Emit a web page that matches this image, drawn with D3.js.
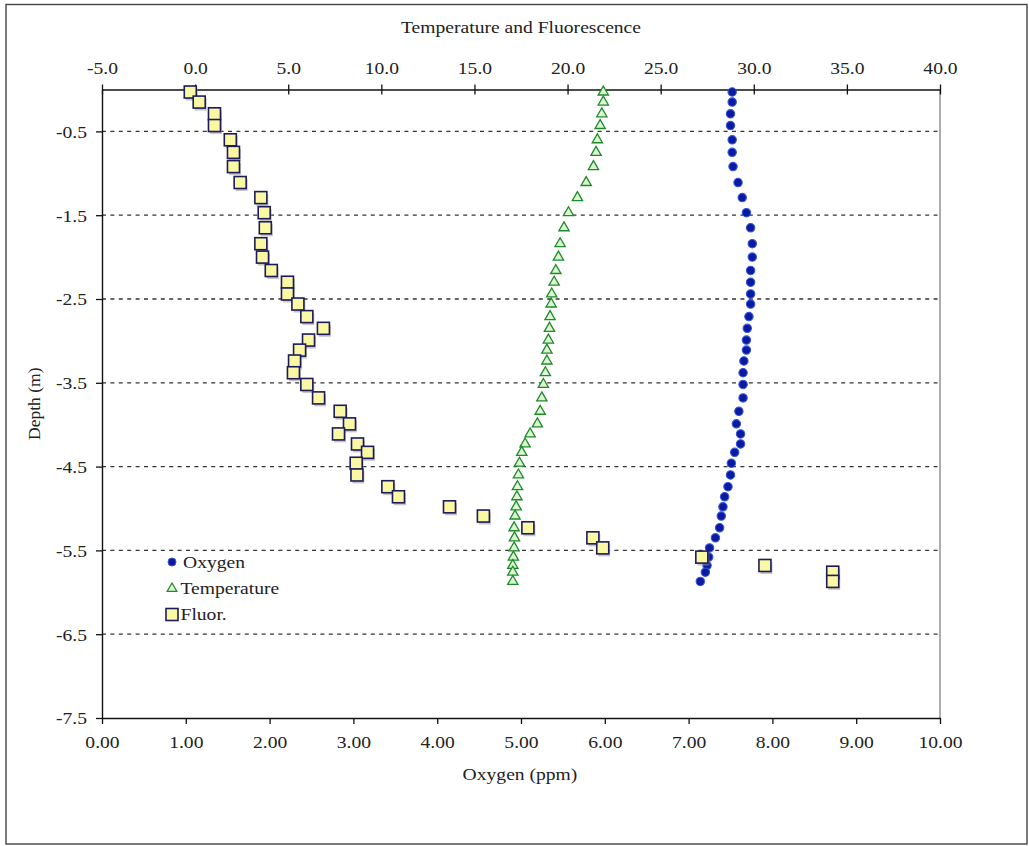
<!DOCTYPE html>
<html>
<head>
<meta charset="utf-8">
<script src="https://cdn.jsdelivr.net/npm/d3@7"></script>
<style>
  html, body { margin: 0; padding: 0; background: #fff; }
  svg { display: block; }
  text { font-family: "Liberation Serif", "Times New Roman", serif; fill: #222; }
  .sx { transform-box: fill-box; transform-origin: center; transform: scaleX(1.12); }
  .sxl { transform-box: fill-box; transform-origin: left center; transform: scaleX(1.12); }
  .sxr { transform-box: fill-box; transform-origin: right center; transform: scaleX(1.12); }
</style>
</head>
<body>
<script>
// ---- data ----
const depth = [-0.03, -0.15, -0.29, -0.43, -0.60, -0.75, -0.92, -1.11, -1.29, -1.47,
  -1.65, -1.84, -2.00, -2.16, -2.30, -2.44, -2.56, -2.71, -2.85, -2.99,
  -3.11, -3.24, -3.38, -3.52, -3.68, -3.84, -3.99, -4.11, -4.23, -4.33,
  -4.46, -4.60, -4.74, -4.86, -4.98, -5.09, -5.23, -5.35, -5.47, -5.58,
  -5.68, -5.76, -5.87];
const oxygen = [7.52, 7.52, 7.50, 7.50, 7.52, 7.52, 7.53, 7.59, 7.64, 7.69,
  7.74, 7.76, 7.76, 7.74, 7.74, 7.74, 7.74, 7.72, 7.70, 7.69,
  7.69, 7.66, 7.65, 7.65, 7.65, 7.60, 7.57, 7.62, 7.62, 7.55,
  7.51, 7.50, 7.47, 7.43, 7.41, 7.39, 7.37, 7.32, 7.25, 7.24,
  7.22, 7.20, 7.14];
const temperature = [21.92, 21.92, 21.84, 21.75, 21.60, 21.53, 21.39, 21.00, 20.53, 20.05,
  19.81, 19.60, 19.51, 19.37, 19.28, 19.15, 19.12, 19.06, 19.03, 18.97,
  18.89, 18.89, 18.81, 18.70, 18.62, 18.53, 18.38, 17.99, 17.72, 17.54,
  17.42, 17.36, 17.31, 17.28, 17.24, 17.18, 17.13, 17.15, 17.13, 17.09,
  17.06, 17.06, 17.06];
const fluor = [-0.26, 0.22, 1.04, 1.04, 1.89, 2.06, 2.06, 2.42, 3.53, 3.71,
  3.77, 3.53, 3.62, 4.09, 4.96, 4.96, 5.52, 6.00, 6.89, 6.09,
  5.61, 5.34, 5.28, 6.00, 6.63, 7.79, 8.29, 7.70, 8.72, 9.26,
  8.65, 8.69, 10.35, 10.92, 13.66, 15.48, 17.87, 21.36, 21.89, 27.21,
  30.60, 34.24, 34.24];

const topTicks = [-5, 0, 5, 10, 15, 20, 25, 30, 35, 40];
const topTickLabels = ["-5.0", "0.0", "5.0", "10.0", "15.0", "20.0", "25.0", "30.0", "35.0", "40.0"];
const bottomTicks = [0, 1, 2, 3, 4, 5, 6, 7, 8, 9, 10];
const bottomTickLabels = ["0.00", "1.00", "2.00", "3.00", "4.00", "5.00", "6.00", "7.00", "8.00", "9.00", "10.00"];
const depthTicks = [-0.5, -1.5, -2.5, -3.5, -4.5, -5.5, -6.5, -7.5];
const depthTickLabels = ["-0.5", "-1.5", "-2.5", "-3.5", "-4.5", "-5.5", "-6.5", "-7.5"];
const legendItems = ["Oxygen", "Temperature", "Fluor."];

// ---- layout ----
const W = 1029, H = 846;
const L = 102, R = 940, T = 89.5, B = 718;
const FS = 17.5;

const svg = d3.select("body").append("svg").attr("width", W).attr("height", H);

svg.append("rect").attr("x", 6).attr("y", 4.5).attr("width", 1021).attr("height", 839.5)
  .attr("fill", "#fff").attr("stroke", "#444").attr("stroke-width", 1.4);

const xO = d3.scaleLinear().domain([0, 10]).range([L, R]);
const xT = d3.scaleLinear().domain([-5, 40]).range([L, R]);
const y = d3.scaleLinear().domain([0, -7.5]).range([T, B]);

// gridlines
svg.append("g").selectAll("line").data(depthTicks.filter(d => d > -7.5)).join("line")
  .attr("x1", L).attr("x2", R)
  .attr("y1", d => y(d)).attr("y2", d => y(d))
  .attr("stroke", "#333").attr("stroke-width", 1.3).attr("stroke-dasharray", "4,4.4");

// right border
svg.append("line").attr("x1", R).attr("x2", R).attr("y1", T).attr("y2", B)
  .attr("stroke", "#777").attr("stroke-width", 1.2);

// top axis
const gTop = svg.append("g").attr("transform", `translate(0,${T})`)
  .call(d3.axisTop(xT).tickValues(topTicks).tickFormat((d, i) => topTickLabels[i]).tickSizeOuter(0).tickSizeInner(5));
gTop.select(".domain").attr("stroke", "#111").attr("stroke-width", 1.4);
gTop.selectAll(".tick line").attr("y1", 5).attr("y2", -5).attr("stroke", "#111").attr("stroke-width", 1.3);
gTop.selectAll(".tick text").attr("y", -16).attr("dy", 0).attr("font-size", FS)
  .attr("font-family", null).attr("class", "sx").attr("fill", "#222");

// bottom axis
const gBot = svg.append("g").attr("transform", `translate(0,${B})`)
  .call(d3.axisBottom(xO).tickValues(bottomTicks).tickFormat((d, i) => bottomTickLabels[i]).tickSizeOuter(0).tickSizeInner(6));
gBot.select(".domain").attr("stroke", "#111").attr("stroke-width", 1.4);
gBot.selectAll(".tick line").attr("stroke", "#111").attr("stroke-width", 1.3);
gBot.selectAll(".tick text").attr("y", 30).attr("dy", 0).attr("font-size", FS)
  .attr("font-family", null).attr("class", "sx").attr("fill", "#222");

// left axis
const gLeft = svg.append("g").attr("transform", `translate(${L},0)`)
  .call(d3.axisLeft(y).tickValues(depthTicks).tickFormat((d, i) => depthTickLabels[i]).tickSizeOuter(0).tickSizeInner(6));
gLeft.select(".domain").attr("stroke", "#111").attr("stroke-width", 1.4);
gLeft.selectAll(".tick line").attr("stroke", "#111").attr("stroke-width", 1.3);
gLeft.selectAll(".tick text").attr("x", -15).attr("dy", "0.34em").attr("font-size", FS)
  .attr("font-family", null).attr("class", "sxr").attr("fill", "#222");

// axis titles
svg.append("text").attr("x", (L + R) / 2).attr("y", 33.5).attr("text-anchor", "middle")
  .attr("font-size", FS).attr("class", "sx").text("Temperature and Fluorescence");
svg.append("text").attr("x", (L + R) / 2 - 1).attr("y", 780).attr("text-anchor", "middle")
  .attr("font-size", FS).attr("class", "sx").text("Oxygen (ppm)");
svg.append("text").attr("transform", `translate(39.5,${(T + B) / 2}) rotate(-90)`)
  .attr("text-anchor", "middle").attr("font-size", FS).text("Depth (m)");

const pts = depth.map((d, i) => ({ d, o: oxygen[i], t: temperature[i], f: fluor[i] }));

// oxygen dots
svg.append("g").selectAll("circle").data(pts).join("circle")
  .attr("cx", p => xO(p.o)).attr("cy", p => y(p.d)).attr("r", 4.2)
  .attr("fill", "#0b1a9e").attr("stroke", "#3556de").attr("stroke-width", 1.1);

// temperature triangles
const tri = d3.symbol().type(d3.symbolTriangle).size(46);
svg.append("g").selectAll("path").data(pts).join("path")
  .attr("d", tri).attr("transform", p => `translate(${xT(p.t)},${y(p.d)})`)
  .attr("fill", "#dcf5d2").attr("stroke", "#1f8a2a").attr("stroke-width", 1.3);

// fluorescence squares
const S = 12;
const gF = svg.append("g");
gF.selectAll("rect.sh").data(pts).join("rect").attr("class", "sh")
  .attr("x", p => xT(p.f) - S / 2 + 1.5).attr("y", p => y(p.d) - S / 2 + 2.5)
  .attr("width", S).attr("height", S).attr("fill", "#999").attr("opacity", 0.55);
gF.selectAll("rect.sq").data(pts).join("rect").attr("class", "sq")
  .attr("x", p => xT(p.f) - S / 2).attr("y", p => y(p.d) - S / 2)
  .attr("width", S).attr("height", S)
  .attr("fill", "#fbf8a4").attr("stroke", "#1c1c5a").attr("stroke-width", 1.6);

// legend
const lg = svg.append("g");
const lx = 172, ly = [562, 588.5, 614.5];
lg.append("circle").attr("cx", lx).attr("cy", ly[0]).attr("r", 4)
  .attr("fill", "#0b1a9e").attr("stroke", "#3556de").attr("stroke-width", 1);
lg.append("path").attr("d", d3.symbol().type(d3.symbolTriangle).size(40))
  .attr("transform", `translate(${lx},${ly[1]})`)
  .attr("fill", "#dcf5d2").attr("stroke", "#1f8a2a").attr("stroke-width", 1.3);
lg.append("rect").attr("x", lx - 6).attr("y", ly[2] - 6).attr("width", 12).attr("height", 12)
  .attr("fill", "#fbf8a4").attr("stroke", "#1c1c5a").attr("stroke-width", 1.6);
lg.selectAll("text").data(legendItems).join("text")
  .attr("x", (d, i) => i === 0 ? 183 : 180.5).attr("y", (d, i) => ly[i] + 6)
  .attr("font-size", FS).attr("class", "sxl").text(d => d);
</script>
</body>
</html>
